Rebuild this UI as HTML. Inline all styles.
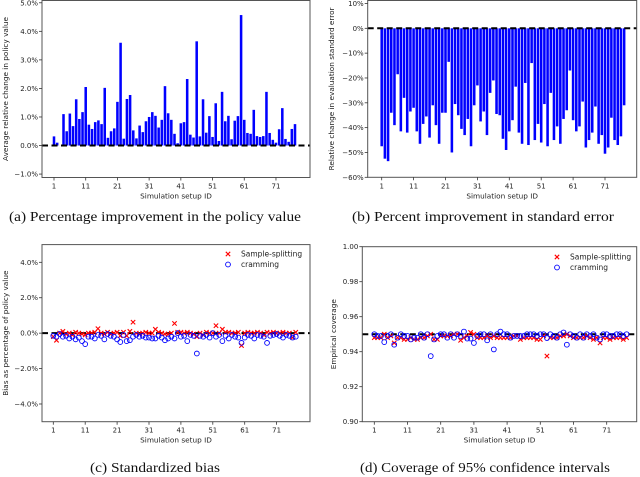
<!DOCTYPE html>
<html><head><meta charset="utf-8">
<style>
html,body{margin:0;padding:0;background:#fff;}
svg{display:block;}
.tk{font-family:"DejaVu Sans","Liberation Sans",sans-serif;font-size:7px;fill:#222;}
.lb{font-family:"DejaVu Sans","Liberation Sans",sans-serif;font-size:7.3px;fill:#222;}
.cap{font-family:"Liberation Serif",serif;font-size:14px;fill:#111;}
.lg{font-family:"DejaVu Sans","Liberation Sans",sans-serif;font-size:7.5px;fill:#222;}
</style></head>
<body>
<svg id="fig" width="640" height="477" viewBox="0 0 640 477" xmlns="http://www.w3.org/2000/svg">
<g id="pa"></g>
<g id="pb"></g>
<g id="pc"></g>
<g id="pd"></g>
<text class="cap" x="155" y="221" text-anchor="middle" textLength="292" lengthAdjust="spacingAndGlyphs">(a) Percentage improvement in the policy value</text>
<text class="cap" x="483" y="221" text-anchor="middle" textLength="262" lengthAdjust="spacingAndGlyphs">(b) Percent improvement in standard error</text>
<text class="cap" x="155" y="472" text-anchor="middle" textLength="130" lengthAdjust="spacingAndGlyphs">(c) Standardized bias</text>
<text class="cap" x="485" y="472" text-anchor="middle" textLength="250" lengthAdjust="spacingAndGlyphs">(d) Coverage of 95% confidence intervals</text>
</svg>
<script>
const policyGain = [0.32,0.1,0.0,1.1,0.5,1.12,0.68,1.62,0.93,1.17,2.05,0.73,0.58,0.82,0.88,0.75,2.02,0.27,0.5,0.6,1.53,3.6,0.24,1.63,1.77,0.53,0.25,0.7,0.47,0.85,1.0,1.17,1.04,0.63,0.9,2.08,1.13,0.9,0.41,0.08,0.78,0.82,2.33,0.38,0.28,3.65,0.32,1.62,0.45,1.03,0.3,1.48,0.16,1.88,0.85,1.04,0.22,0.87,1.03,4.57,0.9,0.44,0.41,1.25,0.33,0.3,0.33,1.88,0.44,0.2,0.1,0.57,1.31,0.23,0.13,0.58,0.75];
const seChange = [-47.5,-52.5,-53.5,-34,-39,-18.5,-41.5,-28,-42,-33.5,-32,-41.5,-46.5,-38.5,-35.5,-44,-31,-39,-46.5,-34,-34,-13.5,-50,-30.5,-35,-40.5,-43,-36.5,-47.5,-31,-23,-37.5,-33.5,-43,-26,-21,-34.5,-35,-44.5,-49,-41.5,-37,-23.5,-42,-46.5,-22,-47,-14,-45,-38.5,-46,-30.5,-47.5,-26,-45,-39.5,-46.5,-36.5,-33,-17,-37,-41.5,-39.5,-29.5,-48,-45,-42,-31.5,-46.5,-43,-50.5,-48,-36,-45,-47,-43.5,-31];
const biasSplit = [-0.2,-0.4,0.0,0.1,-0.05,0.0,-0.1,0.05,0.0,-0.05,-0.1,0.0,0.0,0.05,0.25,0.0,-0.05,0.05,-0.05,0.0,0.05,-0.15,0.05,-0.15,0.1,0.62,0.0,-0.05,0.0,0.05,0.0,0.0,0.22,0.05,0.0,-0.05,-0.05,0.0,0.55,0.05,0.05,0.0,0.05,0.0,-0.05,-0.2,0.0,-0.1,0.05,0.0,0.0,0.42,0.0,0.22,0.05,0.05,0.0,0.0,0.05,-0.7,0.0,0.05,0.0,0.0,0.05,0.0,-0.1,0.05,0.0,0.05,0.0,0.0,0.05,0.0,0.0,-0.25,0.05];
const biasCram = [-0.15,-0.2,-0.05,-0.2,-0.15,-0.3,-0.2,-0.35,-0.25,-0.45,-0.62,-0.2,-0.2,-0.3,-0.1,-0.15,-0.35,-0.05,-0.15,-0.2,-0.35,-0.5,-0.1,-0.45,-0.4,-0.2,-0.1,-0.2,-0.15,-0.25,-0.25,-0.3,-0.3,-0.15,-0.25,-0.4,-0.3,-0.2,-0.3,0.0,-0.2,-0.15,-0.45,-0.1,-0.15,-1.15,-0.15,-0.2,-0.1,-0.25,0.0,-0.2,-0.1,-0.45,-0.15,-0.3,-0.1,-0.2,-0.25,-0.55,-0.25,-0.1,-0.15,-0.3,-0.1,-0.15,-0.2,-0.55,-0.15,-0.1,-0.05,-0.15,-0.25,-0.1,-0.15,-0.25,-0.2];
const covSplit = [0.948,0.948,0.948,0.950,0.948,0.949,0.945,0.948,0.948,0.947,0.947,0.948,0.947,0.947,0.948,0.948,0.949,0.950,0.947,0.947,0.949,0.949,0.949,0.949,0.950,0.950,0.9465,0.948,0.949,0.951,0.950,0.948,0.948,0.948,0.949,0.948,0.949,0.948,0.948,0.948,0.948,0.948,0.949,0.949,0.947,0.948,0.948,0.948,0.948,0.947,0.947,0.949,0.9375,0.948,0.948,0.948,0.949,0.949,0.950,0.949,0.948,0.948,0.948,0.948,0.949,0.948,0.947,0.948,0.945,0.948,0.948,0.947,0.948,0.948,0.948,0.947,0.948];
const covCram = [0.950,0.949,0.949,0.9455,0.949,0.950,0.944,0.948,0.950,0.949,0.949,0.947,0.948,0.948,0.950,0.948,0.950,0.9375,0.947,0.949,0.950,0.950,0.948,0.950,0.948,0.950,0.949,0.9515,0.9475,0.9475,0.945,0.949,0.950,0.950,0.9465,0.950,0.9413,0.950,0.9515,0.950,0.950,0.948,0.949,0.949,0.949,0.949,0.950,0.950,0.950,0.949,0.950,0.950,0.9478,0.950,0.949,0.948,0.950,0.951,0.944,0.950,0.949,0.948,0.950,0.948,0.950,0.949,0.950,0.948,0.947,0.950,0.950,0.949,0.949,0.950,0.950,0.949,0.950];
const xTickIds = [1,11,21,31,41,51,61,71];
const ticksA = [-1,0,1,2,3,4,5];
const ticksB = [-60,-50,-40,-30,-20,-10,0,10];
const ticksC = [-4,-2,0,2,4];
const ticksD = [0.90,0.92,0.94,0.96,0.98,1.00];

const NS="http://www.w3.org/2000/svg";
function mk(parent,tag,attrs){const e=document.createElementNS(NS,tag);for(const k in attrs)e.setAttribute(k,attrs[k]);parent.appendChild(e);return e;}

function axes(g,cfg){
  const yS=v=>cfg.y0+(v-cfg.vmin)/(cfg.vmax-cfg.vmin)*(cfg.y1-cfg.y0);
  const xS=id=>cfg.xs+(id-1)*cfg.dx;
  return {xS,yS};
}
function frame(g,cfg,S,yticks,fmt,ylab,ref){
  const fr=mk(g,'rect',{x:cfg.fx0,y:cfg.y1,width:cfg.fx1-cfg.fx0,height:cfg.y0-cfg.y1,fill:'none',stroke:'#555','stroke-width':1});
  
  
  yticks.forEach(v=>{
    const y=S.yS(v);
    mk(g,'line',{x1:cfg.fx0-3,x2:cfg.fx0,y1:y,y2:y,stroke:'#333','stroke-width':0.8});
    const t=mk(g,'text',{x:cfg.fx0-4,y:y+2.5,'text-anchor':'end','class':'tk'});
    t.textContent=fmt(v);
    
    
  });
  xTickIds.forEach(id=>{
    const x=S.xS(id);
    mk(g,'line',{x1:x,x2:x,y1:cfg.y0,y2:cfg.y0+3,stroke:'#333','stroke-width':0.8});
    const t=mk(g,'text',{x:x,y:cfg.y0+11,'text-anchor':'middle','class':'tk'});
    t.textContent=String(id);
    
    
  });
  const xl=mk(g,'text',{x:(cfg.fx0+cfg.fx1)/2,y:cfg.y0+21,'text-anchor':'middle','class':'lb'});
  xl.textContent='Simulation setup ID';
  
  
  const cy=(cfg.y0+cfg.y1)/2;
  const yl=mk(g,'text',{x:cfg.ylx,y:cy,'text-anchor':'middle','class':'lb',transform:`rotate(-90 ${cfg.ylx} ${cy})`});
  yl.textContent=ylab;
  
  
}
function refLine(g,cfg,S,v){
  const l=mk(g,'line',{x1:cfg.fx0,x2:cfg.fx1,y1:S.yS(v),y2:S.yS(v),stroke:'#000','stroke-width':2,'stroke-dasharray':'6,3.5'});
  
  
}
function bars(g,S,cfg,vals,name){
  vals.forEach((v,i)=>{
    const x=S.xS(i+1), y0=S.yS(0), y=S.yS(v), w=cfg.dx*0.8;
    const r=mk(g,'rect',{x:x-w/2,y:Math.min(y0,y),width:w,height:Math.abs(y-y0),fill:'#0000ff'});
    
    
  });
}
function xmark(g,x,y){
  const p=mk(g,'path',{d:`M${x-2.2},${y-2.2}L${x+2.2},${y+2.2}M${x-2.2},${y+2.2}L${x+2.2},${y-2.2}`,stroke:'#ff0000','stroke-width':1.1,fill:'none'});
  return p;
}
function omark(g,x,y){
  return mk(g,'circle',{cx:x,cy:y,r:2.4,fill:'none',stroke:'#0000ff','stroke-width':0.9});
}
function scatter(g,S,split,cram){
  split.forEach((v,i)=>{
    const p=xmark(g,S.xS(i+1),S.yS(v));
    
    
  });
  cram.forEach((v,i)=>{
    const c=omark(g,S.xS(i+1),S.yS(v));
    
    
  });
}
function legend(g,x,y){
  const a=xmark(g,x,y);
  
  
  const t1=mk(g,'text',{x:x+13,y:y+2.7,'class':'lg'});t1.textContent='Sample-splitting';
  
  
  const b=omark(g,x,y+10.5);
  
  
  const t2=mk(g,'text',{x:x+13,y:y+13.2,'class':'lg'});t2.textContent='cramming';
  
  
}

// Panel A
(function(){
  const g=document.getElementById('pa');
  const cfg={fx0:42,fx1:310,y0:177.5,y1:0.5,vmin:-1.12,vmax:5.08,xs:54,dx:3.171,ylx:8};
  const S=axes(g,cfg);
  bars(g,S,cfg,policyGain,'policy-gain');
  refLine(g,cfg,S,0);
  frame(g,cfg,S,ticksA,v=>(v<0?'\u22121.0%':v.toFixed(1)+'%'),'Average relative change in policy value');
})();
// Panel B
(function(){
  const g=document.getElementById('pb');
  const cfg={fx0:367.7,fx1:636.7,y0:177.3,y1:0.5,vmin:-60,vmax:11.2,xs:381.7,dx:3.19,ylx:334};
  const S=axes(g,cfg);
  bars(g,S,cfg,seChange,'se-change');
  refLine(g,cfg,S,0);
  frame(g,cfg,S,ticksB,v=>(v<0?'\u2212'+(-v):String(v))+'%','Relative change in evaluation standard error');
})();
// Panel C
(function(){
  const g=document.getElementById('pc');
  const cfg={fx0:42,fx1:310,y0:421.7,y1:244.6,vmin:-5,vmax:5,xs:53.3,dx:3.19,ylx:8};
  const S=axes(g,cfg);
  refLine(g,cfg,S,0);
  scatter(g,S,biasSplit,biasCram);
  frame(g,cfg,S,ticksC,v=>(v<0?'\u2212'+(-v).toFixed(1):v.toFixed(1))+'%','Bias as percentage of policy value');
  legend(g,228,254);
})();
// Panel D
(function(){
  const g=document.getElementById('pd');
  const cfg={fx0:362.3,fx1:636.7,y0:421.7,y1:246.7,vmin:0.90,vmax:1.00,xs:374.3,dx:3.32,ylx:336};
  const S=axes(g,cfg);
  refLine(g,cfg,S,0.95);
  scatter(g,S,covSplit,covCram);
  frame(g,cfg,S,ticksD,v=>v.toFixed(2),'Empirical coverage');
  legend(g,557,257);
})();
</script>
</body></html>
